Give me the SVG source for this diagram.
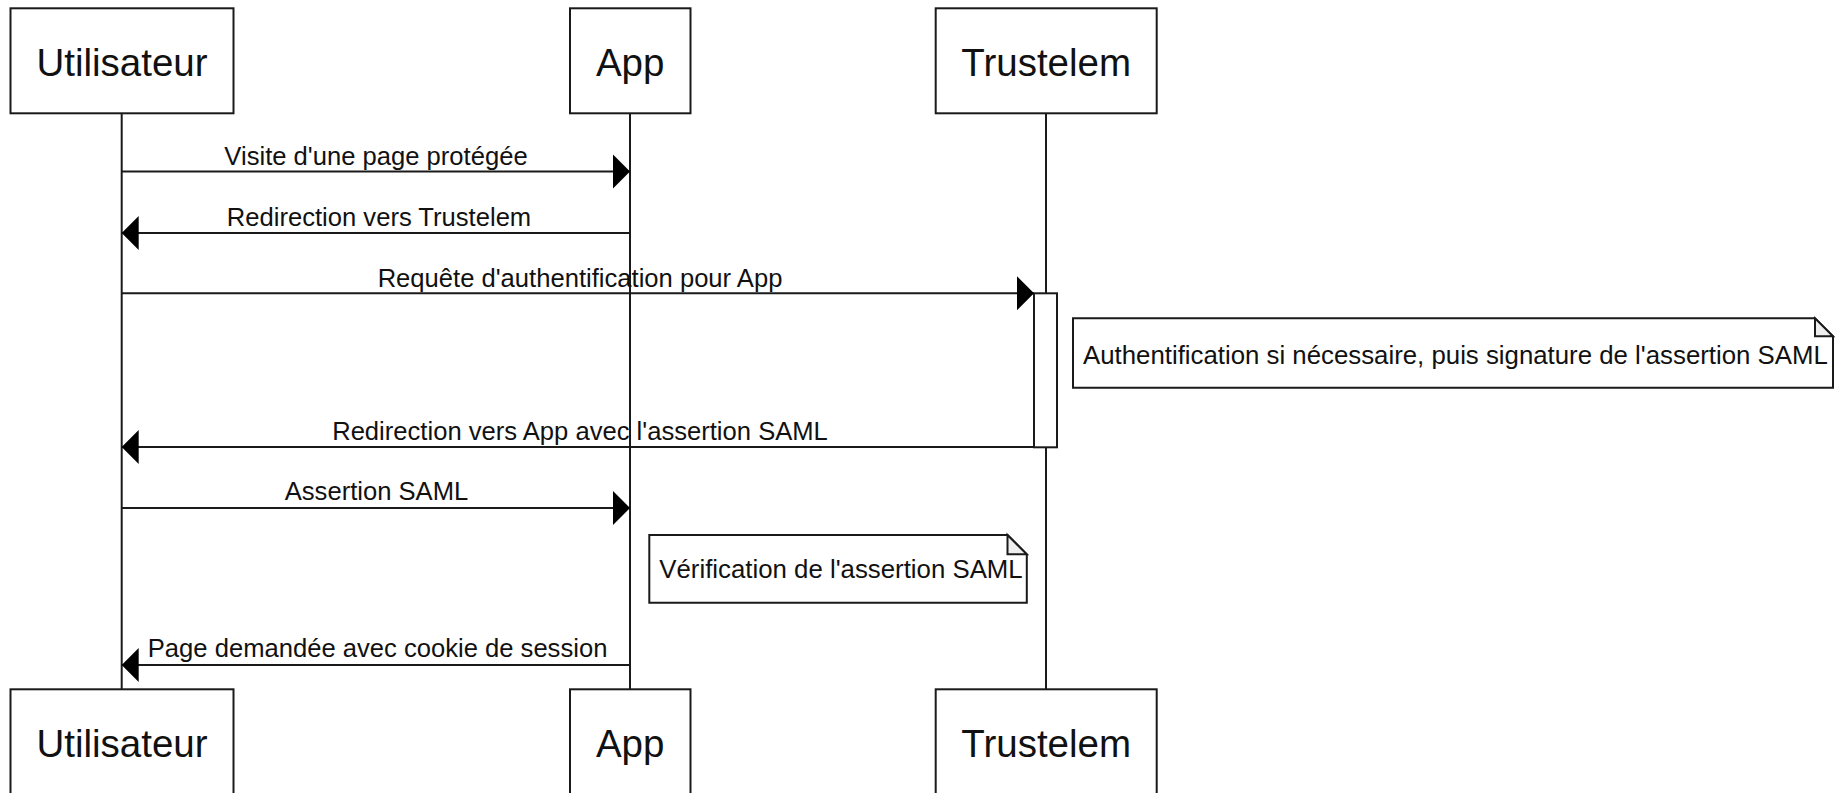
<svg xmlns="http://www.w3.org/2000/svg" width="1836" height="793" viewBox="0 0 1836 793">
  <style>
    .box { fill: #ffffff; stroke: #1a1a1a; stroke-width: 2; }
    .actor { font-family: "Liberation Sans", Arial, sans-serif; font-size: 38.5px; fill: #111111; text-anchor: middle; }
    .life { stroke: #1a1a1a; stroke-width: 2; fill: none; }
    .msg { stroke: #1a1a1a; stroke-width: 2; fill: none; marker-end: url(#arrow); }
    .lbl { font-family: "Liberation Sans", Arial, sans-serif; font-size: 25.6px; fill: #111111; text-anchor: middle; }
    .note { fill: #ffffff; stroke: #1a1a1a; stroke-width: 2; stroke-linejoin: miter; }
    .fold { fill: #eeeeee; stroke: #1a1a1a; stroke-width: 2; }
    .ntxt { font-family: "Liberation Sans", Arial, sans-serif; font-size: 25.8px; fill: #111111; }
  </style>
  <defs>
    <marker id="arrow" markerUnits="userSpaceOnUse" markerWidth="18" markerHeight="36" refX="17" refY="17" orient="auto" overflow="visible">
      <path d="M0,0 L17,17 L0,34 Z" fill="#000000"/>
    </marker>
  </defs>
  <rect width="1836" height="793" fill="#ffffff"/>

  <g id="lifelines">
    <line class="life" x1="121.7" y1="113.3" x2="121.7" y2="689.3"/>
    <line class="life" x1="630" y1="113.3" x2="630" y2="689.3"/>
    <line class="life" x1="1046" y1="113.3" x2="1046" y2="689.3"/>
  </g>

  <g id="actor-utilisateur-top">
    <rect class="box" x="10.5" y="8.3" width="223" height="105"/>
    <text class="actor" x="122" y="76">Utilisateur</text>
  </g>
  <g id="actor-app-top">
    <rect class="box" x="570" y="8.3" width="120.5" height="105"/>
    <text class="actor" x="630.2" y="76">App</text>
  </g>
  <g id="actor-trustelem-top">
    <rect class="box" x="935.7" y="8.3" width="221" height="105"/>
    <text class="actor" x="1046.2" y="76">Trustelem</text>
  </g>

  <g id="actor-utilisateur-bottom">
    <rect class="box" x="10.5" y="689.3" width="223" height="105"/>
    <text class="actor" x="122" y="757">Utilisateur</text>
  </g>
  <g id="actor-app-bottom">
    <rect class="box" x="570" y="689.3" width="120.5" height="105"/>
    <text class="actor" x="630.2" y="757">App</text>
  </g>
  <g id="actor-trustelem-bottom">
    <rect class="box" x="935.7" y="689.3" width="221" height="105"/>
    <text class="actor" x="1046.2" y="757">Trustelem</text>
  </g>

  <g id="activation-trustelem">
    <rect class="box" x="1034" y="293.3" width="23" height="154"/>
  </g>

  <g id="note-authentification">
    <path class="note" d="M1073,318.3 H1815 L1833,336.3 V387.8 H1073 Z"/>
    <path class="fold" d="M1815,318.3 V336.3 H1833 Z"/>
    <text class="ntxt" x="1083" y="364">Authentification si nécessaire, puis signature de l'assertion SAML</text>
  </g>

  <g id="note-verification">
    <path class="note" d="M649.3,535 H1007.5 L1026.8,554.3 V602.7 H649.3 Z"/>
    <path class="fold" d="M1007.5,535 V554.3 H1026.8 Z"/>
    <text class="ntxt" x="659.3" y="577.5">Vérification de l'assertion SAML</text>
  </g>

  <g id="connectors">
    <line class="msg" x1="121.7" y1="171.5" x2="630" y2="171.5"/>
    <text class="lbl" x="376" y="165">Visite d'une page protégée</text>

    <line class="msg" x1="630" y1="233" x2="121.7" y2="233"/>
    <text class="lbl" x="379" y="225.5">Redirection vers Trustelem</text>

    <line class="msg" x1="121.7" y1="293.3" x2="1034" y2="293.3"/>
    <text class="lbl" x="580" y="287">Requête d'authentification pour App</text>

    <line class="msg" x1="1034" y1="447" x2="121.7" y2="447"/>
    <text class="lbl" x="580" y="440">Redirection vers App avec l'assertion SAML</text>

    <line class="msg" x1="121.7" y1="508" x2="630" y2="508"/>
    <text class="lbl" x="376.5" y="500">Assertion SAML</text>

    <line class="msg" x1="630" y1="665" x2="121.7" y2="665"/>
    <text class="lbl" x="377.6" y="656.5">Page demandée avec cookie de session</text>
  </g>
</svg>
